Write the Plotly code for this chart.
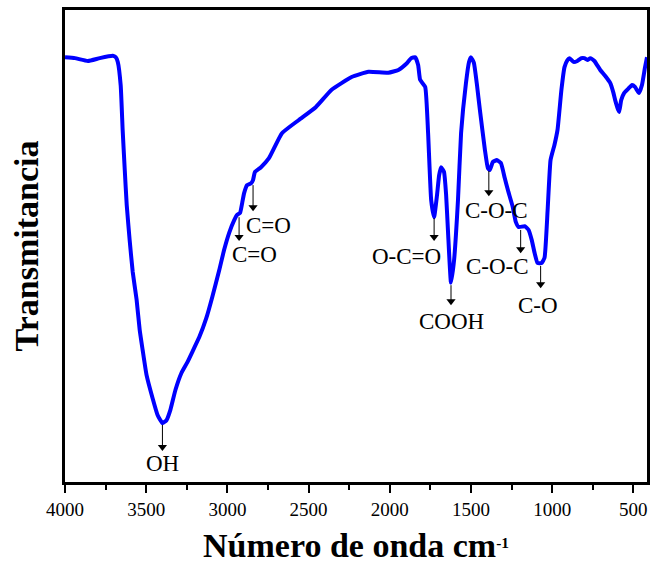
import plotly.graph_objects as go

# FTIR spectrum: wavenumber (cm-1) and transmittance (a.u.)
wavenumber = [4000, 3939, 3859, 3786, 3706, 3688, 3675, 3657, 3645, 3632, 3620, 3602,
              3583, 3559, 3540, 3522, 3498, 3461, 3430, 3400, 3375, 3351, 3320, 3283,
              3246, 3210, 3173, 3130, 3093, 3050, 3020, 2989, 2958, 2940, 2922, 2909,
              2897, 2879, 2854, 2842, 2830, 2793, 2744, 2664, 2560, 2456, 2358, 2235,
              2131, 2009, 1947, 1898, 1868, 1843, 1825, 1813, 1782, 1764, 1745, 1727,
              1709, 1696, 1684, 1666, 1653, 1641, 1623, 1604, 1580, 1561, 1531, 1512,
              1500, 1482, 1463, 1445, 1414, 1396, 1384, 1365, 1341, 1316, 1292, 1273,
              1243, 1224, 1206, 1169, 1145, 1126, 1108, 1090, 1065, 1047, 1028, 1010,
              986, 967, 943, 924, 906, 894, 869, 845, 820, 802, 783, 765, 740, 704,
              673, 642, 624, 612, 593, 587, 575, 557, 532, 508, 490, 465, 447, 428, 416]
transmittance = [90.0, 89.8, 89.2, 89.8, 90.3, 90.0, 89.0, 84.0, 74.6, 66.1, 58.7, 51.3,
                 44.5, 38.6, 32.2, 28.0, 22.7, 17.8, 14.2, 12.5, 13.1, 15.3, 19.5, 23.1,
                 25.4, 28.0, 30.7, 34.7, 39.2, 44.9, 49.2, 52.8, 55.5, 56.6, 57.0, 59.1,
                 61.2, 62.9, 63.3, 64.0, 65.7, 66.7, 68.6, 73.9, 76.7, 79.4, 83.1, 85.8,
                 86.9, 86.7, 87.3, 88.6, 89.8, 90.0, 88.3, 85.2, 83.7, 73.9, 59.7, 56.1,
                 60.8, 65.0, 66.7, 65.7, 60.8, 52.8, 42.2, 47.0, 59.7, 73.9, 84.5, 89.0,
                 90.0, 88.8, 84.1, 78.8, 70.3, 66.5, 66.1, 67.8, 68.2, 67.6, 64.4, 61.9,
                 58.3, 55.1, 54.0, 54.2, 53.4, 51.3, 48.5, 46.4, 46.4, 47.5, 57.6, 68.2,
                 71.4, 74.6, 83.1, 87.9, 89.4, 89.8, 89.0, 89.2, 89.8, 89.8, 89.4, 89.8,
                 89.2, 87.3, 86.0, 84.5, 82.6, 80.9, 78.8, 78.4, 80.9, 82.4, 83.3, 84.1,
                 83.7, 82.4, 84.1, 87.9, 90.0]

# Band assignments: label, arrow x, arrow tail y (on curve), arrow head y, label x, label y
band_labels = ["OH", "C=O", "C=O", "O-C=O", "COOH", "C-O-C", "C-O-C", "C-O"]
band_x = [3400, 2928, 2842, 1727, 1623, 1390, 1194, 1071]
band_tail = [12.1, 56.1, 62.9, 55.9, 41.7, 65.9, 53.4, 45.8]
band_head = [7.4, 51.9, 58.2, 51.9, 38.3, 61.4, 49.3, 41.9]
label_x = [3400, 2836, 2744, 1898, 1617, 1341, 1335, 1090]
label_y = [4.0, 48.1, 54.4, 47.7, 33.9, 57.6, 45.6, 37.5]

SERIF = "Liberation Serif, Times New Roman, serif"

fig = go.Figure()
fig.add_trace(go.Scatter(
    x=wavenumber, y=transmittance, mode="lines",
    line=dict(color="#0000FF", width=4, shape="spline", smoothing=0.4),
    showlegend=False, hoverinfo="skip",
))

# Downward arrows marking each band: shaft plus triangular head
for bx, bt, bh in zip(band_x, band_tail, band_head):
    fig.add_trace(go.Scatter(
        x=[bx, bx], y=[bt, bh], mode="lines",
        line=dict(color="black", width=1),
        showlegend=False, hoverinfo="skip",
    ))
fig.add_trace(go.Scatter(
    x=band_x, y=band_head, mode="markers",
    marker=dict(symbol="triangle-down", size=8, color="black", line=dict(width=0)),
    showlegend=False, hoverinfo="skip",
))

annotations = []
for lab, lx, ly in zip(band_labels, label_x, label_y):
    annotations.append(dict(
        x=lx, y=ly, xref="x", yref="y", text=lab, showarrow=False,
        xanchor="center", yanchor="middle",
        font=dict(family=SERIF, size=23, color="black"),
    ))

fig.update_layout(
    width=652, height=564,
    margin=dict(l=65, r=2, t=10, b=82),
    paper_bgcolor="white", plot_bgcolor="white",
    annotations=annotations,
    xaxis=dict(
        range=[4000, 416], showgrid=False, zeroline=False,
        showline=True, linecolor="black", linewidth=2.5, mirror=True,
        ticks="outside", ticklen=8, tickwidth=2, tickcolor="black",
        tickvals=[4000, 3500, 3000, 2500, 2000, 1500, 1000, 500],
        minor=dict(tickvals=[3750, 3250, 2750, 2250, 1750, 1250, 750],
                   ticks="outside", ticklen=5, tickwidth=2, tickcolor="black"),
        tickfont=dict(family=SERIF, size=19, color="black"),
        title=dict(text="<b>Número de onda cm<span style='font-size:22px'><sup>-1</sup></span></b>",
                   standoff=16, font=dict(family=SERIF, size=34, color="black")),
    ),
    yaxis=dict(
        range=[0, 100], showgrid=False, zeroline=False, showticklabels=False,
        ticks="", showline=True, linecolor="black", linewidth=2.5, mirror=True,
        title=dict(text="<b>Transmitancia</b>", standoff=14,
                   font=dict(family=SERIF, size=34, color="black")),
    ),
)

fig.write_html("out.html")
